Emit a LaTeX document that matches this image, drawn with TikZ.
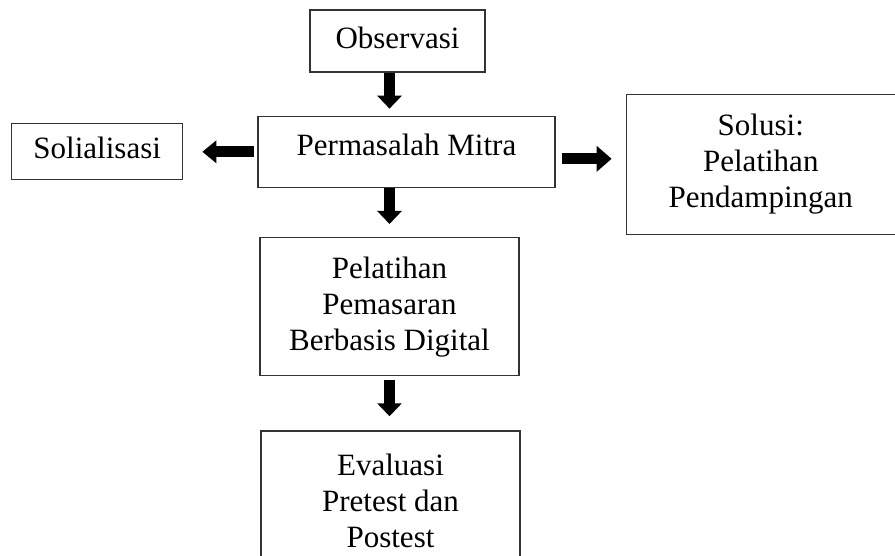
\documentclass[tikz,border=0pt]{standalone}
\usepackage{fontspec}
\setmainfont{Liberation Serif}
\usetikzlibrary{positioning,arrows.meta}

\begin{document}
\begin{tikzpicture}[font=\fontsize{31}{36}\selectfont,
    main box/.style={rectangle,draw=black!80,line width=1.3pt,align=center},
    one line/.style={text height=21pt,text depth=7pt},
    block arrow/.style={line width=11pt,-{Triangle[width=24pt,length=13pt]}}]

          \clip (0,0) rectangle (895pt,-555pt);

          \node[main box,one line,minimum width=175pt,minimum height=62pt] (obs) at (397.5pt,-41pt) {Observasi};
          \node[main box,one line,text depth=14pt,minimum width=297pt,minimum height=71pt] (prob) [below=43pt of obs,xshift=9pt] {Permasalah Mitra};
          \node[main box,one line,minimum width=171pt,minimum height=56pt] (sos) [left=74pt of prob] {Solialisasi};
          \node[main box,minimum width=269pt,minimum height=140pt] (sol) [right=70pt of prob,yshift=-12.5pt] {Solusi:\\ Pelatihan\\ Pendampingan};
          \node[main box,minimum width=259pt,minimum height=138pt] (train) [below=49pt of prob,xshift=-17pt] {Pelatihan\\ Pemasaran\\ Berbasis Digital};
          \node[main box,minimum width=259pt,minimum height=140pt] (eval) [below=54pt of train,xshift=1pt] {Evaluasi\\ Pretest dan\\ Postest};

          \coordinate (rs) at ([shift={(6pt,-7pt)}]prob.east);

          \draw[block arrow,shorten >=7pt] (obs.south -| train) -- (prob.north -| train);
          \draw[block arrow,shorten >=13pt] (prob.south -| train) -- (train.north);
          \draw[block arrow,shorten <=4pt,shorten >=14pt] (train.south) -- (eval.north -| train);

          \draw[block arrow,-{Triangle[width=22pt,length=14pt]},shorten <=3pt,shorten >=19pt] (prob.west) -- (prob.west -| sos.east);
          \draw[block arrow,-{Triangle[width=25pt,length=15pt]},shorten >=14pt] (rs) -- (rs -| sol.west);
        \end{tikzpicture}
\end{document}
